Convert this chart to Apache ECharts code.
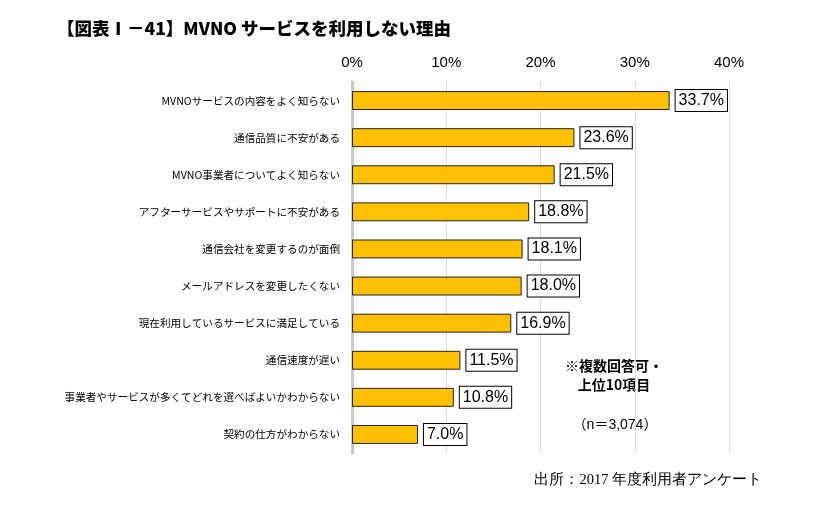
<!DOCTYPE html>
<html><head><meta charset="utf-8">
<script src="https://cdn.jsdelivr.net/npm/echarts@6/dist/echarts.min.js"></script>
<style>html,body{margin:0;padding:0;background:#fff}#c{width:834px;height:508px}</style>
</head><body><div id="c"></div>
<script>
const categories = [
  'MVNOサービスの内容をよく知らない',
  '通信品質に不安がある',
  'MVNO事業者についてよく知らない',
  'アフターサービスやサポートに不安がある',
  '通信会社を変更するのが面倒',
  'メールアドレスを変更したくない',
  '現在利用しているサービスに満足している',
  '通信速度が遅い',
  '事業者やサービスが多くてどれを選べばよいかわからない',
  '契約の仕方がわからない'
];
const values = [33.7, 23.6, 21.5, 18.8, 18.1, 18.0, 16.9, 11.5, 10.8, 7.0];
const xTicks = [0, 10, 20, 30, 40];

const chart = echarts.init(document.getElementById('c'), null, {renderer: 'canvas'});
chart.setOption({
  backgroundColor: '#fff',
  animation: false,
  grid: {left: 352, right: 105, top: 82, bottom: 55, containLabel: false},
  xAxis: {
    type: 'value', position: 'top', min: xTicks[0], max: xTicks[xTicks.length-1], interval: 10,
    axisLine: {show: false}, axisTick: {show: false},
    axisLabel: {formatter: v => v + '%', fontSize: 15, color: '#000', fontFamily: 'Liberation Sans, Arial', margin: 12},
    splitLine: {show: true, lineStyle: {color: '#d9d9d9', width: 1}}
  },
  yAxis: {
    type: 'category', data: categories, inverse: true,
    axisLine: {show: true, lineStyle: {color: '#c8c8c8', width: 3}},
    axisTick: {show: false},
    axisLabel: {fontSize: 10.6, color: '#000', fontFamily: 'Noto Sans CJK JP', margin: 12}
  },
  series: [{
    type: 'bar', data: values, barWidth: '51%',
    itemStyle: {color: '#FFC000', borderColor: '#222', borderWidth: 1},
    label: {
      show: true, position: 'right', distance: 6,
      formatter: p => p.value.toFixed(1) + '%',
      fontSize: 16, color: '#000', fontFamily: 'Liberation Sans, Arial',
      backgroundColor: '#fff', borderColor: '#000', borderWidth: 1, padding: [3, 3, 2, 3]
    }
  }],
  graphic: [
    {type: 'text', left: 57, top: 20, style: {text: '【図表Ⅰ－41】MVNO サービスを利用しない理由', fontSize: 17.5, fontWeight: 900, fill: '#000', fontFamily: 'Noto Sans CJK JP'}},
    {type: 'text', x: 614, y: 366, style: {text: '※複数回答可・', fontSize: 14, fontWeight: 'bold', fill: '#000', fontFamily: 'Noto Sans CJK JP', align: 'center', verticalAlign: 'middle'}},
    {type: 'text', x: 614, y: 385, style: {text: '上位10項目', fontSize: 14, fontWeight: 'bold', fill: '#000', fontFamily: 'Noto Sans CJK JP', align: 'center', verticalAlign: 'middle'}},
    {type: 'text', x: 615, y: 425, style: {text: '（n＝3,074）', fontSize: 14, fill: '#000', fontFamily: 'Liberation Sans, Noto Sans CJK JP', align: 'center', verticalAlign: 'middle'}},
    {type: 'text', x: 762, y: 480, style: {text: '出所：2017 年度利用者アンケート', fontSize: 14.5, fill: '#000', fontFamily: 'serif', align: 'right', verticalAlign: 'middle'}}
  ]
});
</script></body></html>
